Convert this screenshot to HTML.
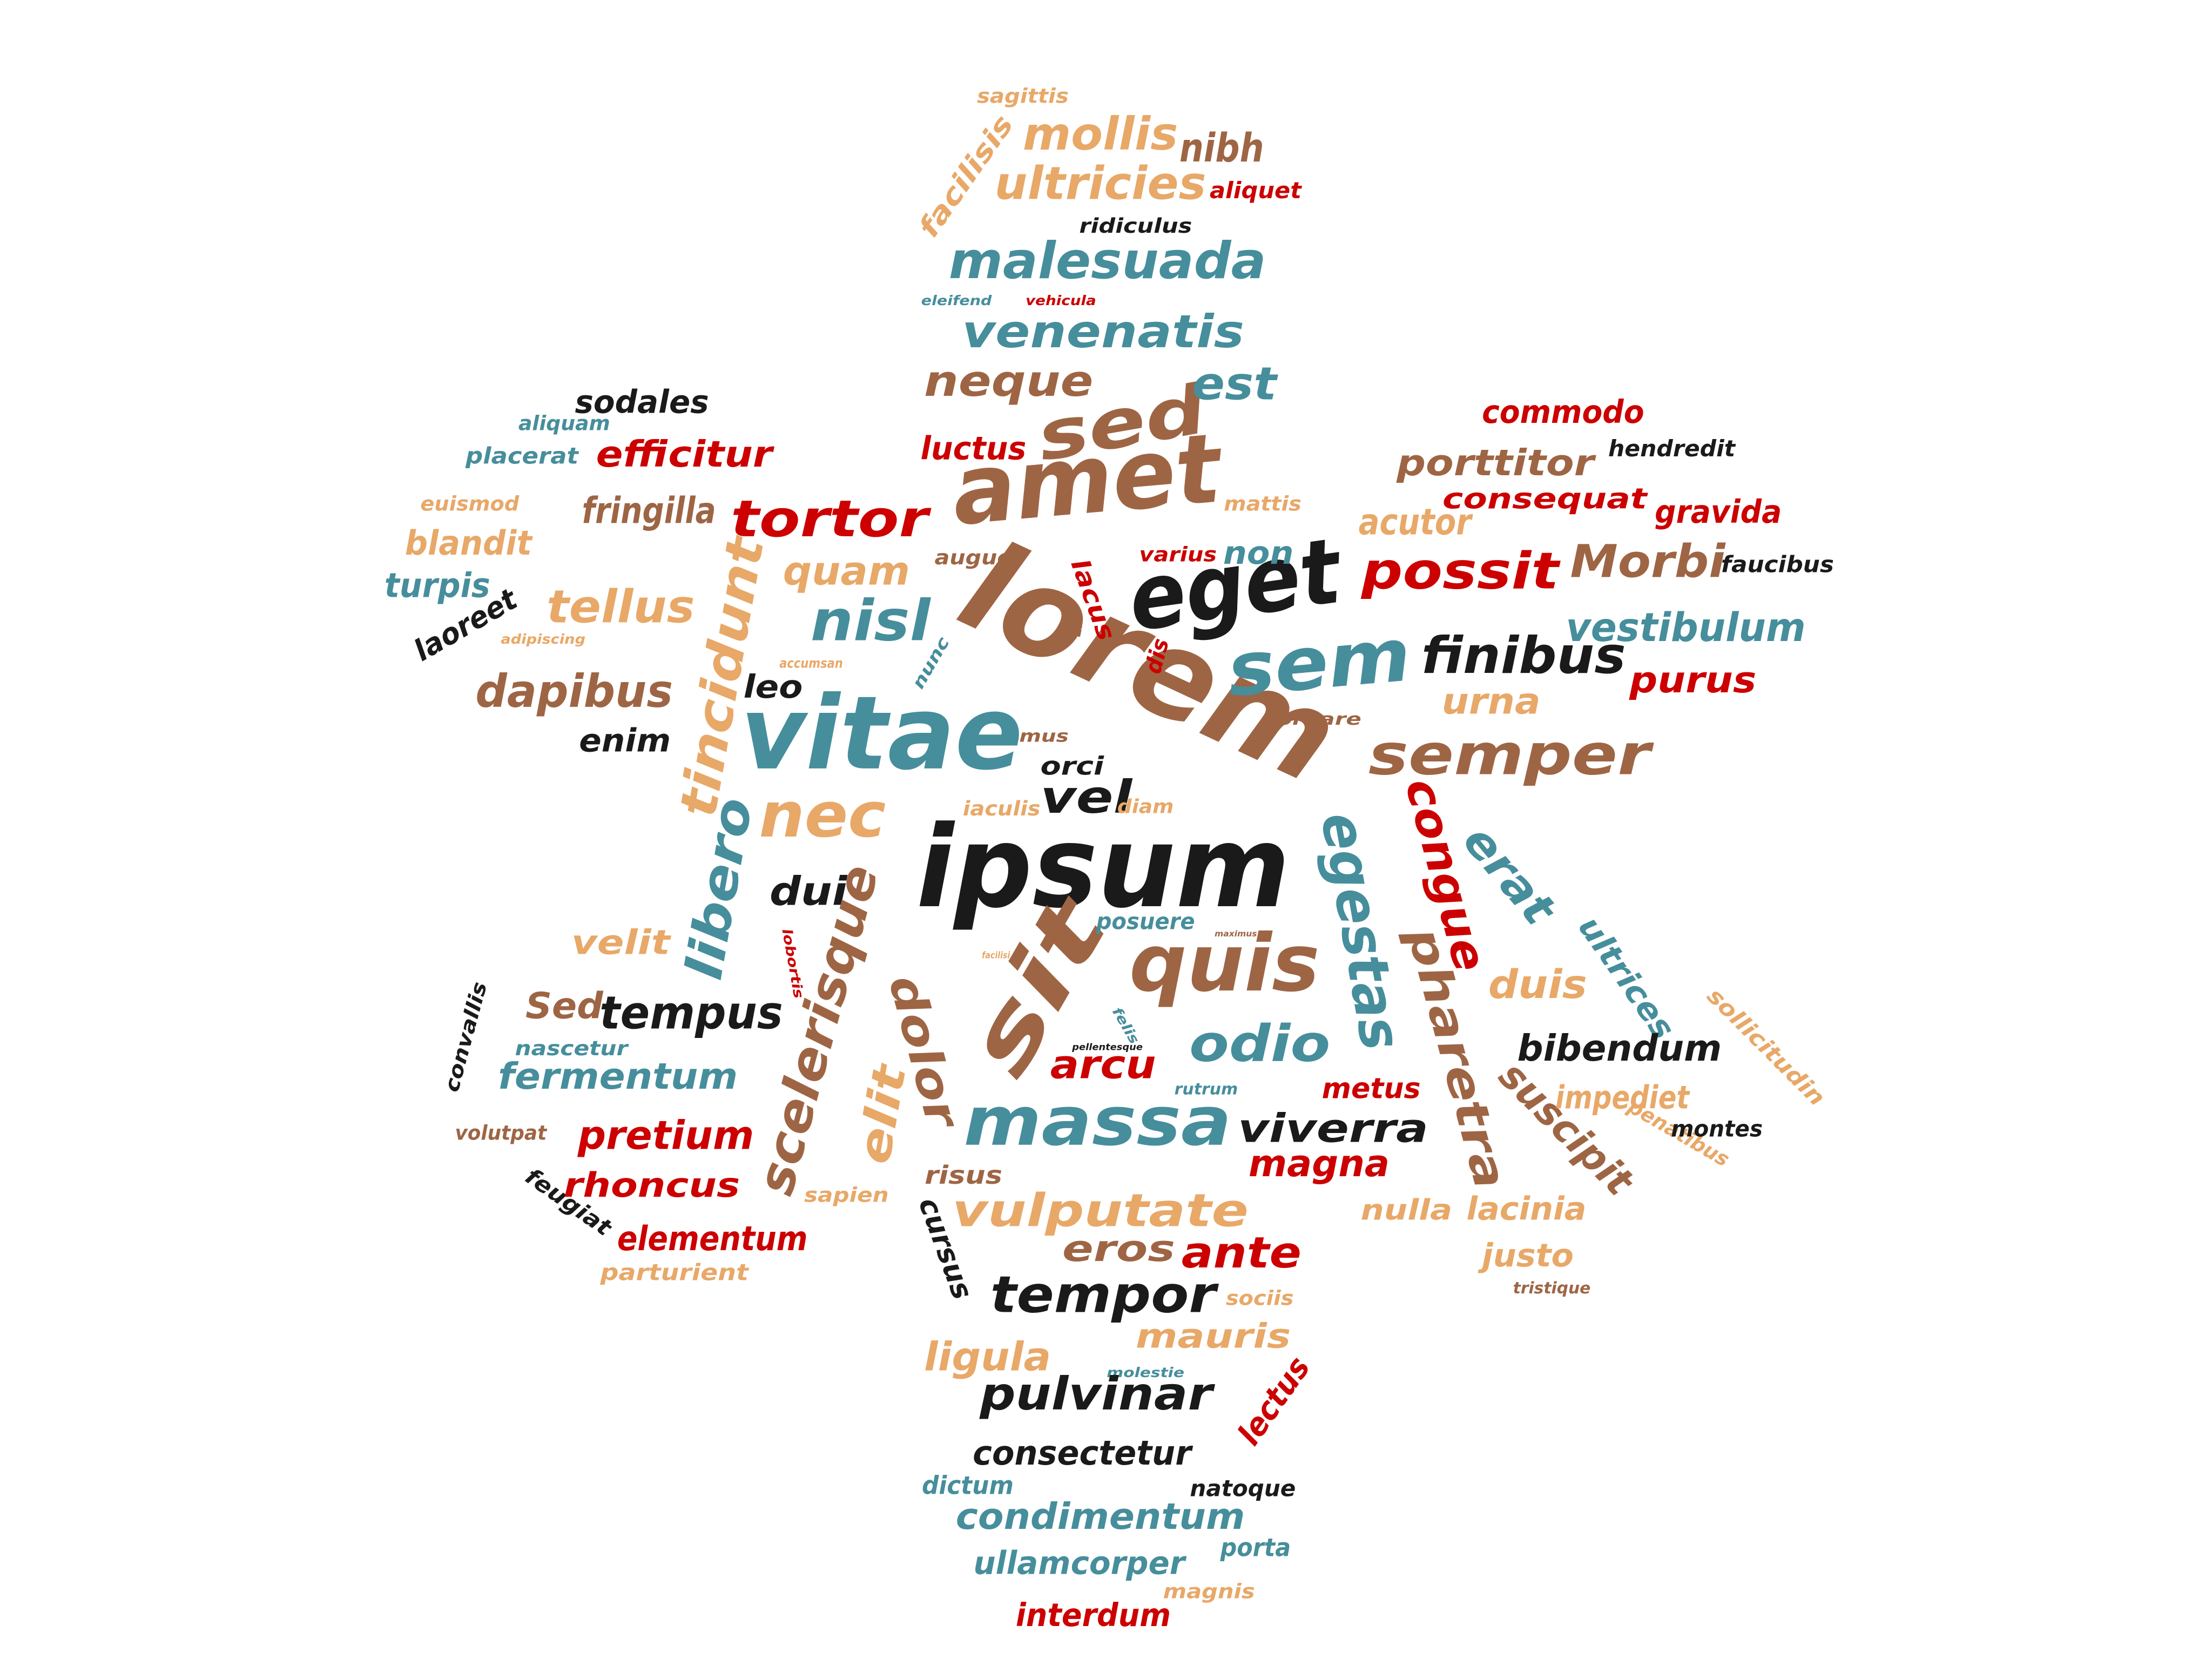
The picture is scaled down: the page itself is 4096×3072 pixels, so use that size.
<!DOCTYPE html>
<html><head><meta charset="utf-8"><style>
html,body{margin:0;padding:0;background:#fff;width:4096px;height:3072px;overflow:hidden}
svg text{font-family:"DejaVu Sans","Liberation Sans",sans-serif;font-weight:bold;font-style:italic}
</style></head><body>
<svg id="cloud" width="4096" height="3072" viewBox="0 0 1568 1176" xmlns="http://www.w3.org/2000/svg">
<rect width="1568" height="1176" fill="#fff"/>
</svg>
<script>
const words=["lorem","ipsum","vitae","amet","eget","sit","quis","massa","sem","sed","nec","nisl","tortor","egestas","congue","semper","finibus","possit","malesuada","venenatis","neque","est","mollis","ultricies","nibh","sagittis","facilisis","aliquet","ridiculus","eleifend","vehicula","luctus","tincidunt","quam","tellus","fringilla","efficitur","sodales","aliquam","placerat","euismod","blandit","turpis","laoreet","adipiscing","dapibus","enim","leo","accumsan","nunc","augue","non","mattis","lacus","nisi","dis","varius","porttitor","commodo","hendredit","consequat","gravida","acutor","Morbi","faucibus","vestibulum","urna","purus","ornare","mus","orci","vel","iaculis","diam","dui","libero","scelerisque","erat","ultrices","sollicitudin","duis","pharetra","bibendum","velit","Sed","tempus","convallis","nascetur","fermentum","lobortis","dolor","elit","posuere","maximus","facilisi","felis","pellentesque","arcu","odio","rutrum","metus","suscipit","impediet","penatibus","montes","viverra","magna","volutpat","pretium","feugiat","rhoncus","elementum","parturient","sapien","risus","vulputate","cursus","eros","ante","nulla","lacinia","justo","tristique","tempor","sociis","mauris","ligula","molestie","pulvinar","lectus","consectetur","dictum","natoque","condimentum","ullamcorper","porta","magnis","interdum"];
const weights=[110,100,90,85,80,80,70,60,65,60,55,50,45,50,40,50,45,45,45,40,38,40,40,40,35,18,25,20,18,12,12,28,45,35,40,32,32,28,18,20,18,30,30,26,12,40,28,28,12,15,18,28,18,22,12,20,18,32,28,20,25,28,32,40,20,35,32,32,15,15,22,40,18,17,35,45,45,40,28,20,35,40,32,30,32,40,18,18,32,12,40,40,20,7,8,12,8,35,45,14,25,35,28,18,20,35,33,18,35,20,30,30,20,18,22,40,25,32,38,25,28,28,14,45,18,30,35,12,40,28,30,22,20,32,28,22,18,28];
const colorKeys=["b","k","t","b","k","b","b","t","t","b","n","t","r","t","r","b","k","r","t","t","b","t","n","n","b","n","n","r","k","t","r","r","n","n","n","b","r","k","t","t","n","n","t","k","n","b","k","k","n","t","b","t","n","r","b","r","r","b","r","k","r","r","n","b","k","t","n","r","b","b","k","k","n","n","k","t","b","t","t","n","n","b","k","n","b","k","k","t","t","r","b","n","t","b","n","t","k","r","t","t","r","b","n","n","k","k","r","b","r","k","r","r","n","n","b","n","k","b","r","n","n","n","b","k","n","n","n","t","k","r","k","t","k","t","t","t","n","r"];
// layout (placement of each word in the cloud, viewBox units)
const layX=[815,782,625,770,875,735,868,778,935,795,583,617,588,965,1025,1070,1080,1035,785,782,715,875,780,780,866,725,685,890,805,678,752,690,512,600,440,460,485,455,400,370,333,332,310,330,385,407,443,548,575,660,690,892,895,775,757,820,835,1060,1108,1185,1095,1218,1003,1168,1260,1195,1057,1200,935,740,760,770,710,812,573,510,580,1070,1153,1252,1090,1033,1148,440,400,490,330,405,438,562,655,625,812,876,706,798,785,782,893,855,972,1110,1150,1190,1217,945,935,355,472,403,462,505,478,600,683,780,670,793,880,997,1082,1083,1100,782,893,860,700,812,777,903,767,686,881,780,765,890,857,775];
const layY=[470,615,520,340,415,700,683,795,470,300,578,440,368,660,620,535,465,405,185,235,270,272,95,130,105,68,125,135,160,213,213,318,480,405,430,362,322,285,300,323,357,385,415,443,453,490,525,487,470,470,395,392,357,425,448,465,393,328,292,318,354,363,370,398,400,445,497,482,510,522,543,565,573,572,632,630,730,620,693,742,698,750,743,668,713,718,735,743,763,683,745,790,653,662,677,727,742,755,740,772,772,800,778,803,800,800,825,803,805,852,840,878,902,847,833,858,885,885,888,858,857,890,913,918,920,947,962,973,988,993,1030,1053,1055,1075,1108,1097,1128,1145];
const layW=[280,265,200,190,150,130,135,190,130,120,90,85,140,170,140,200,145,140,225,200,120,60,110,150,60,65,100,65,80,50,50,75,200,90,105,95,125,95,65,80,70,90,75,80,60,140,65,42,45,40,55,50,55,60,20,25,55,140,115,90,145,90,80,110,80,170,70,90,60,35,45,65,55,40,55,130,240,80,100,110,70,190,145,70,55,130,80,80,170,50,110,70,70,30,20,28,50,75,100,45,70,120,95,80,65,135,100,65,125,70,125,135,105,60,55,210,75,80,85,65,85,65,55,160,48,110,90,55,165,70,155,65,75,205,150,50,65,110];
const layR=[25,0,0,-5,-8,-60,0,0,-5,-10,0,0,0,80,75,0,0,0,0,0,0,0,0,0,0,0,-55,0,0,0,0,0,-80,0,0,0,0,0,0,0,0,0,0,-30,0,0,0,0,0,-60,0,0,0,70,0,-75,0,0,0,0,0,0,0,0,0,0,0,0,0,0,0,0,0,0,0,-80,-75,50,55,45,0,75,0,0,0,0,-75,0,0,80,75,-80,0,0,0,60,0,0,0,0,0,45,0,30,0,0,0,0,0,35,0,0,0,0,0,0,70,0,0,0,0,0,0,0,0,0,0,0,0,-55,0,0,0,0,0,0,0,0];
const palette={t:"#468e9c",b:"#9e6544",k:"#1a1a1a",r:"#cc0000",n:"#e8a868"};
const svg=document.getElementById('cloud');
const NS="http://www.w3.org/2000/svg";
words.forEach((w,i)=>{
  const t=document.createElementNS(NS,'text');
  
  
  t.setAttribute('x',layX[i]);
  t.setAttribute('y',layY[i]);
  t.setAttribute('font-size',weights[i]*0.8);
  t.setAttribute('text-anchor','middle');
  t.setAttribute('dominant-baseline','central');
  t.setAttribute('textLength',layW[i]);
  t.setAttribute('lengthAdjust','spacingAndGlyphs');
  t.setAttribute('fill',palette[colorKeys[i]]);
  if(layR[i]) t.setAttribute('transform','rotate('+layR[i]+' '+layX[i]+' '+layY[i]+')');
  t.textContent=w;
  svg.appendChild(t);
});
</script>
</body></html>
